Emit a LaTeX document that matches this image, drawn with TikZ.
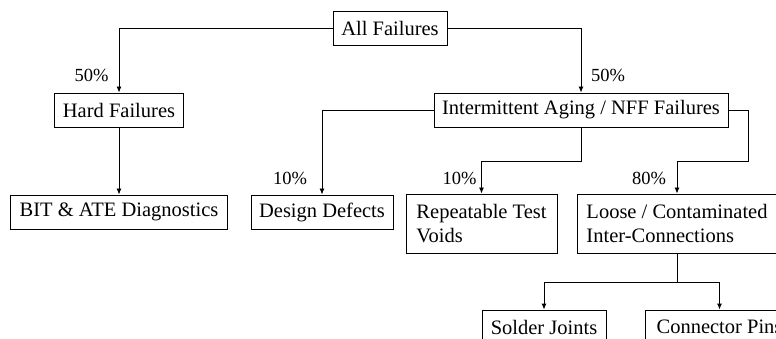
\documentclass[tikz,border=0pt]{standalone}
\usepackage{fontspec}
\setmainfont{Liberation Serif}
\usetikzlibrary{arrows.meta}

\tikzset{
  box/.style={draw, line width=0.9pt, minimum height=34pt, inner xsep=8pt,
    font=\fontsize{20.5}{24.5}\selectfont},
  twobox/.style={box, minimum height=59pt, align=left},
  pct/.style={font=\fontsize{18.5}{22}\selectfont},
  link/.style={line width=0.9pt},
  arr/.style={link, -{Latex[length=6pt,width=5pt]}}
}

\begin{document}
\begin{tikzpicture}[x=1pt, y=-1pt]
    % visible frame of the page (boxes run past the edges)
    \clip (0,0) rectangle (776,339);

    % top level
    \node[box, minimum width=114pt] (all) at (390,28.5) {All Failures};

    % second level
    \node[box, minimum width=128pt] (hard) at (119,110) {Hard Failures};
    \node[box, minimum width=294pt] (inter) at (581,110) {Intermittent Aging / NFF Failures};

    % third level
    \node[box, minimum width=217pt] (bit) at (119,212) {BIT \& ATE Diagnostics};
    \node[box, minimum width=142pt] (design) at (322,212) {Design Defects};
    \node[twobox, minimum width=151pt] (repeat) at (481.5,223.5) {Repeatable Test\\Voids};
    \node[twobox, minimum width=200pt] (loose) at (677,223.5) {Loose / Contaminated\\Inter-Connections};

    % bottom level
    \node[box, minimum width=124pt] (solder) at (544,327) {Solder Joints};
    \node[box, minimum width=149pt] (pins) at (719.5,327) {Connector Pins};

    % connectors
    \draw[arr] (all.west) -| (hard.north);
    \draw[arr] (all.east) -| (inter.north);
    \draw[arr] (hard.south) -- (bit.north);
    \draw[arr] (inter.west) -| (design.north);
    \draw[arr] (inter.south) -- ++(0,34) -| (repeat.north);
    \draw[arr] (inter.east) -- ++(20,0) -- ++(0,51) -| (loose.north);
    \draw[link] (loose.south) -- ++(0,29) coordinate (split);
    \draw[arr] (split) -| (solder.north);
    \draw[arr] (split) -| (pins.north);

    % percentages
    \node[pct] (phard) at (91.5,75) {50\%};
    \node[pct] (pinter) at (608,75) {50\%};
    \node[pct] (pdesign) at (290,178) {10\%};
    \node[pct] (prepeat) at (459.5,178) {10\%};
    \node[pct] (ploose) at (649,178) {80\%};
\end{tikzpicture}
\end{document}
